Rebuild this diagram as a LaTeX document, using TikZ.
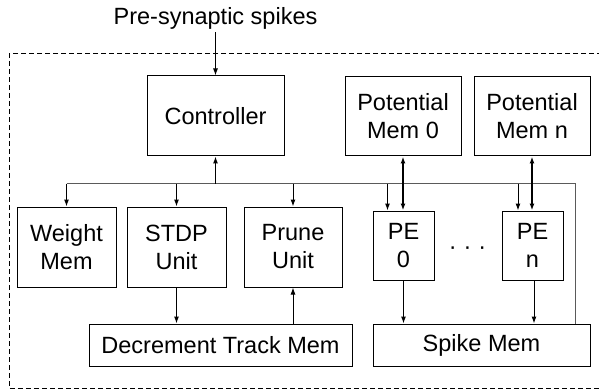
\documentclass[tikz,border=0pt]{standalone}
\usepackage{fontspec}
\setmainfont{Liberation Sans}
\usepackage{tikz}
\usetikzlibrary{positioning,arrows.meta,calc}
\definecolor{bus1}{HTML}{5A5A5A}

\begin{document}
\begin{tikzpicture}[
    x=1pt, y=-1pt,
    >={Latex[length=7pt,width=5pt]},
    blk/.style={draw, line width=1pt, inner sep=0pt, align=center,
                font=\fontsize{23.5}{28}\selectfont},
    frame/.style={draw, line width=1pt, dash pattern=on 5pt off 3pt},
    bus/.style={draw=bus1, line width=1.4pt},
    sig/.style={->, line width=1pt},
    biarr/.style={<->, line width=1.4pt},
]
\useasboundingbox (0,0) rectangle (599,390);

% -- frame --
\draw[frame] (610,54) -- (9,54) -- (9,388) -- (610,388);

% -- top row --
\node[font=\fontsize{23.5}{28}\selectfont] (spikes) at (215.5,18) {Pre-synaptic spikes};
\node[blk, minimum width=137pt, minimum height=80pt] (ctrl) at (215.5,116) {Controller};
\node[blk, minimum width=116pt, minimum height=79pt] (pm0) at (403,116.5) {Potential\\Mem 0};
\node[blk, minimum width=116pt, minimum height=79pt] (pmn) at (532,116.5) {Potential\\Mem n};

% -- middle row --
\node[blk, minimum width=99pt, minimum height=80pt] (wmem) at (66.5,247) {Weight\\Mem};
\node[blk, minimum width=99pt, minimum height=80pt] (stdp) at (176.5,247) {STDP\\Unit};
\node[blk, minimum width=98pt, minimum height=80pt] (prune) at (293,247) {Prune\\Unit};
\node[blk, minimum width=61pt, minimum height=69pt] (pe0) at (403.5,245.5) {PE\\0};
\node[blk, minimum width=61pt, minimum height=69pt] (pen) at (532.5,245.5) {PE\\n};
\node[font=\fontsize{23.5}{28}\selectfont] (dots) at (467.5,251) {·\hspace{7pt}·\hspace{7pt}·};

% -- bottom row --
\node[blk, minimum width=263pt, minimum height=42pt] (dtm) at (220.5,345) {Decrement Track Mem};
\node[blk, minimum width=217pt, minimum height=42pt] (smem) at (481.5,345) {Spike Mem};

% -- bus --
\coordinate (busL) at (66.5,183.5);
\coordinate (busR) at (575.5,183.5);
\coordinate (pe0in) at ([xshift=-16pt]pe0.north);
\coordinate (penin) at ([xshift=-14.5pt]pen.north);
\draw[bus] (busL) -- (busR) -- (busR |- smem.north);

% -- bus taps --
\draw[sig] (busL) -- (wmem.north);
\draw[sig] (busL -| stdp.north) -- (stdp.north);
\draw[sig] (busL -| prune.north) -- (prune.north);
\draw[sig] (busL -| pe0in) -- (pe0in);
\draw[sig] (busL -| penin) -- (penin);
\draw[sig] (busL -| ctrl.south) -- (ctrl.south);
\draw[sig] (spikes.south) -- (ctrl.north);

% -- potential mems --
\draw[biarr] (pm0.south) -- (pm0.south |- pe0.north);
\draw[biarr] (pmn.south) -- (pmn.south |- pen.north);

% -- to memories --
\draw[sig] (pe0.south) -- (pe0.south |- smem.north);
\draw[sig] ([xshift=1.5pt]pen.south) -- ([xshift=1.5pt]pen.south |- smem.north);
\draw[sig] (stdp.south) -- (stdp.south |- dtm.north);
\draw[sig] (prune.south |- dtm.north) -- (prune.south);

\end{tikzpicture}
\end{document}
